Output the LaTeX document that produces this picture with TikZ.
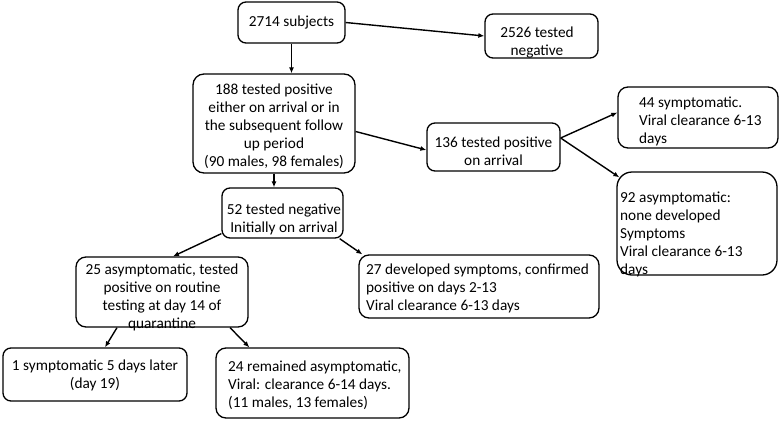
\documentclass[tikz,border=0pt]{standalone}
\usepackage{fontspec}
\setmainfont{Carlito}
\usetikzlibrary{arrows.meta}
\begin{document}
\begin{tikzpicture}[x=1pt,y=-1pt,
  box/.style={draw, line width=1.3pt, rounded corners=8pt, inner sep=0pt, minimum width=#1},
  txt/.style={inner sep=0pt, font=\fontsize{15.3}{18}\selectfont},
  arr/.style={line width=1.4pt, -{Latex[length=6pt,width=5pt]}}]
\useasboundingbox (0,0) rectangle (780,421);
% boxes
\node[box=107pt, minimum height=41pt] (b1) at (291.5,22.5) {};
\node[box=113pt, minimum height=44pt] (b2) at (541.5,36) {};
\node[box=162pt, minimum height=99pt, rounded corners=11pt] (b3) at (274,123.5) {};
\node[box=133pt, minimum height=48pt] (b4) at (493.5,147) {};
\node[box=160pt, minimum height=61pt, rounded corners=10pt] (b5) at (698,117.5) {};
\node[box=160pt, minimum height=103pt, rounded corners=15pt] (b6) at (697,223.5) {};
\node[box=121pt, minimum height=50pt] (b7) at (282.5,213) {};
\node[box=172pt, minimum height=70pt, rounded corners=10pt] (b8) at (162,292) {};
\node[box=240pt, minimum height=63pt, rounded corners=10pt] (b9) at (479,286.5) {};
\node[box=184pt, minimum height=53pt] (b10) at (95,374.5) {};
\node[box=193pt, minimum height=70pt, rounded corners=10pt] (b11) at (312.5,383) {};
% texts
\node[txt] (t1) at (291.5,22.5) {2714 subjects};
\node[txt, align=center] (t2) at (537,42) {2526 tested\\negative};
\node[txt, align=center] (t3) at (274,126.5) {188 tested positive\\either on arrival or in\\the subsequent follow\\up period\\(90 males, 98 females)};
\node[txt, align=center] (t4) at (493.5,151.5) {136 tested positive\\on arrival};
\node[txt, align=left, anchor=west] (t5) at (639,121.5) {44 symptomatic.\\Viral clearance 6-13\\days};
\node[txt, align=left, anchor=west] (t6) at (620,234) {92 asymptomatic:\\none developed\\Symptoms\\Viral clearance 6-13\\days};
\node[txt, align=center] (t7) at (284,219) {52 tested negative\\Initially on arrival};
\node[txt, align=center] (t8) at (162,297.5) {25 asymptomatic, tested\\positive on routine\\testing at day 14 of\\quarantine};
\node[txt, align=left, anchor=west] (t9) at (366,288) {27 developed symptoms, confirmed\\positive on days 2-13\\Viral clearance 6-13 days};
\node[txt, align=center] (t10) at (95,375.5) {1 symptomatic 5 days later\\(day 19)};
\node[txt, align=left, anchor=west] (t11) at (228,385) {24 remained asymptomatic,\\Viral: clearance 6-14 days.\\(11 males, 13 females)};
% connectors
\draw[arr] (b1.east) -- (b2.west);
\draw[arr] (b1.south) -- (b1.south |- b3.north);
\draw[arr] ([yshift=-8pt]b3.east) -- ([yshift=-3pt]b4.west);
\draw[arr] ([yshift=9pt]b4.east) -- ([yshift=5pt]b5.west);
\draw[arr] ([yshift=9pt]b4.east) -- ([shift={(3pt,-6pt)}]b6.north west);
\draw[arr] (b3.south) -- (b3.south |- b7.north);
\draw[arr] ([yshift=5pt]b7.south west) -- ([xshift=11pt]b8.north);
\draw[arr] ([xshift=-4pt]b7.south east) -- ([xshift=4pt]b9.north west);
\draw[arr] ([xshift=-45pt]b8.south) -- ([xshift=10pt]b10.north);
\draw[arr] ([xshift=68pt]b8.south) -- ([xshift=34pt]b11.north west);
\end{tikzpicture}
\end{document}
